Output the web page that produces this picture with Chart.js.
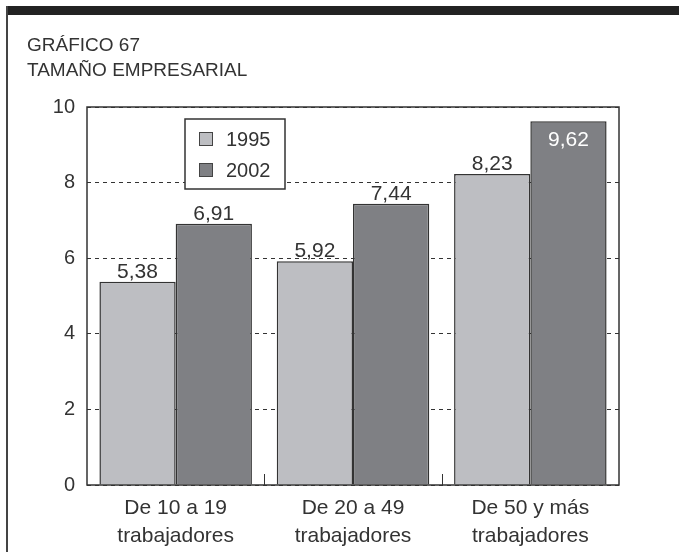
<!DOCTYPE html>
<html>
<head>
<meta charset="utf-8">
<script src="https://cdn.jsdelivr.net/npm/chart.js@4"></script>
<style>
  html, body { margin: 0; padding: 0; background: #fff; }
  #wrap { position: relative; width: 679px; height: 552px; overflow: hidden; }
  #topbar { position: absolute; left: 6px; top: 6px; width: 673px; height: 9px; background: #222; }
  #leftline { position: absolute; left: 6px; top: 6px; width: 2px; height: 546px; background: #444; }
  #title { position: absolute; left: 27px; top: 32px; font-family: "Liberation Sans", Arial, sans-serif;
           font-size: 19px; line-height: 25px; color: #333; }
  canvas { position: absolute; left: 0; top: 0; }
</style>
</head>
<body>
<div id="wrap">
  <div id="topbar"></div>
  <div id="leftline"></div>
  <canvas id="chart" width="679" height="552"></canvas>
  <div id="title">GRÁFICO 67<br>TAMAÑO EMPRESARIAL</div>
</div>
<script>
const categories = [
  ["De 10 a 19", "trabajadores"],
  ["De 20 a 49", "trabajadores"],
  ["De 50 y más", "trabajadores"]
];
const seriesNames = ["1995", "2002"];
const values1995 = [5.38, 5.92, 8.23];
const values2002 = [6.91, 7.44, 9.62];
const yTicks = [0, 2, 4, 6, 8, 10];

const FONT = "Liberation Sans, Arial, sans-serif";
const INK = "#333333";
const fmt = v => v.toFixed(2).replace(".", ",");

// frame, inner ticks, value labels and legend
const decor = {
  id: "decor",
  afterDatasetsDraw(chart) {
    const { ctx, chartArea: a } = chart;
    const x = chart.scales.x;
    ctx.save();
    // short ticks between groups
    ctx.strokeStyle = INK;
    ctx.lineWidth = 1;
    for (let i = 0; i < categories.length - 1; i++) {
      const px = Math.round(x.getPixelForValue(i + 0.5)) + 0.5;
      ctx.beginPath();
      ctx.moveTo(px, a.bottom);
      ctx.lineTo(px, a.bottom - 11);
      ctx.stroke();
    }
    // plot frame
    ctx.lineWidth = 1.5;
    ctx.strokeRect(a.left, a.top, a.right - a.left, a.bottom - a.top);

    // value labels
    ctx.font = "21px " + FONT;
    ctx.textAlign = "center";
    chart.data.datasets.forEach((ds, di) => {
      const meta = chart.getDatasetMeta(di);
      meta.data.forEach((bar, i) => {
        const txt = fmt(ds.data[i]);
        if (bar.y - 26 < a.top) {
          ctx.fillStyle = "#ffffff";
          ctx.textBaseline = "top";
          ctx.fillText(txt, bar.x, bar.y + 8);
        } else {
          ctx.fillStyle = INK;
          ctx.textBaseline = "alphabetic";
          ctx.fillText(txt, bar.x, bar.y - 4);
        }
      });
    });

    // legend box
    const lx = 185, ly = 119, lw = 100, lh = 70;
    ctx.fillStyle = "#fff";
    ctx.fillRect(lx, ly, lw, lh);
    ctx.lineWidth = 1.5;
    ctx.strokeStyle = INK;
    ctx.strokeRect(lx, ly, lw, lh);
    ctx.font = "20px " + FONT;
    ctx.textAlign = "left";
    ctx.textBaseline = "middle";
    chart.data.datasets.forEach((ds, di) => {
      const cy = ly + 20 + di * 31;
      ctx.fillStyle = ds.backgroundColor;
      ctx.fillRect(lx + 14, cy - 7, 14, 14);
      ctx.lineWidth = 1;
      ctx.strokeStyle = "#444";
      ctx.strokeRect(lx + 14.5, cy - 6.5, 13, 13);
      ctx.fillStyle = INK;
      ctx.fillText(ds.label, lx + 41, cy + 1);
    });
    ctx.restore();
  }
};

new Chart(document.getElementById("chart"), {
  type: "bar",
  data: {
    labels: categories,
    datasets: [
      {
        label: seriesNames[0],
        data: values1995,
        backgroundColor: "#bdbec2",
        borderColor: "#333333",
        borderWidth: 1.5,
        borderSkipped: "bottom"
      },
      {
        label: seriesNames[1],
        data: values2002,
        backgroundColor: "#7f8084",
        borderColor: "#333333",
        borderWidth: 1.5,
        borderSkipped: "bottom"
      }
    ]
  },
  options: {
    responsive: false,
    animation: false,
    devicePixelRatio: 1,
    layout: { padding: { left: 20, top: 107, right: 60, bottom: 0 } },
    categoryPercentage: 0.86,
    barPercentage: 1.0,
    plugins: {
      legend: { display: false },
      tooltip: { enabled: false }
    },
    scales: {
      x: {
        grid: { display: false },
        border: { display: false },
        ticks: {
          color: INK,
          font: { family: FONT, size: 21, lineHeight: 1.3 },
          padding: 2,
          maxRotation: 0
        },
        afterFit(s) { s.height = 67; }
      },
      y: {
        min: 0,
        max: 10,
        afterBuildTicks(s) { s.ticks = yTicks.map(v => ({ value: v })); },
        grid: { color: INK, lineWidth: 1, drawTicks: false },
        border: { display: false, dash: [4, 4] },
        ticks: {
          color: INK,
          font: { family: FONT, size: 20 },
          padding: 12
        },
        afterFit(s) { s.width = 67; }
      }
    }
  },
  plugins: [decor]
});
</script>
</body>
</html>
